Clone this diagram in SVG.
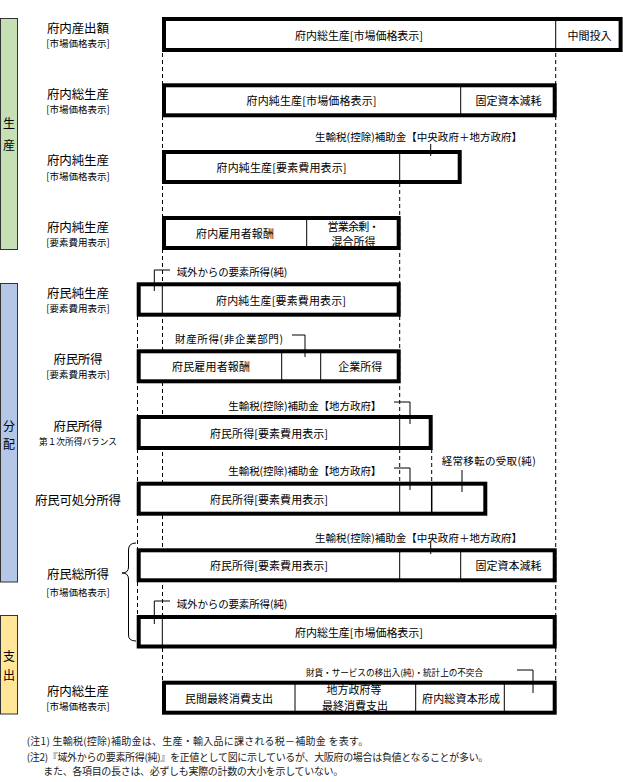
<svg xmlns="http://www.w3.org/2000/svg" width="623" height="782" viewBox="0 0 623 782">
<style>
.box{fill:#fff;stroke:#000;stroke-width:4}
.dv{stroke:#000;stroke-width:1}
.dash{stroke:#000;stroke-width:1;stroke-dasharray:4 3;fill:none}
.ln{stroke:#000;stroke-width:1;fill:none}
text{font-family:"Noto Sans CJK JP","Noto Sans CJK SC",sans-serif;fill:#000}
.bt{font-size:11px;text-anchor:middle;dominant-baseline:central}
.lb{font-size:12.5px;text-anchor:middle;dominant-baseline:central}
.sb{font-size:9.5px;text-anchor:middle;dominant-baseline:central}
.an{font-size:10.5px;dominant-baseline:central}
.nt{font-size:10px;fill:#222;dominant-baseline:central}
.st{font-size:12px;text-anchor:middle;dominant-baseline:central}
.side{stroke:#333;stroke-width:1}
</style>
<rect width="623" height="782" fill="#fff"/>

<g id="side-bars">
<rect class="side" x="0.5" y="18.5" width="17" height="231" fill="#c5e0b4"/>
<text class="st" x="9" y="122">生</text>
<text class="st" x="9" y="144">産</text>
<rect class="side" x="0.5" y="283.5" width="17" height="298.5" fill="#b4c7e7"/>
<text class="st" x="9" y="425">分</text>
<text class="st" x="9" y="443.5">配</text>
<rect class="side" x="0.5" y="615.5" width="17" height="98.5" fill="#ffe699"/>
<text class="st" x="9" y="655">支</text>
<text class="st" x="9" y="674.5">出</text>
</g>

<g id="guides">
<line class="dash" x1="162.5" y1="53" x2="162.5" y2="682"/>
<line class="dash" x1="137.5" y1="316" x2="137.5" y2="617"/>
<line class="dash" x1="399.7" y1="183" x2="399.7" y2="483"/>
<line class="dash" x1="431.7" y1="449" x2="431.7" y2="483"/>
<line class="dash" x1="555.7" y1="53" x2="555.7" y2="682"/>
</g>

<g id="labels">
<text class="lb" x="78" y="27" textLength="62">府内産出額</text>
<text class="sb" x="78" y="43">[市場価格表示]</text>
<text class="lb" x="78" y="93.3" textLength="62">府内総生産</text>
<text class="sb" x="78" y="109.3">[市場価格表示]</text>
<text class="lb" x="78" y="159.7" textLength="62">府内純生産</text>
<text class="sb" x="78" y="175.8">[市場価格表示]</text>
<text class="lb" x="78" y="226" textLength="62">府内純生産</text>
<text class="sb" x="78" y="241.7">[要素費用表示]</text>
<text class="lb" x="78" y="292" textLength="62">府民純生産</text>
<text class="sb" x="78" y="308.3">[要素費用表示]</text>
<text class="lb" x="78" y="358.2" textLength="49">府民所得</text>
<text class="sb" x="78" y="374.3">[要素費用表示]</text>
<text class="lb" x="78" y="425" textLength="49">府民所得</text>
<text class="sb" x="78" y="441" textLength="78" style="font-size:8.7px">第１次所得バランス</text>
<text class="lb" x="78" y="499.2" textLength="86">府民可処分所得</text>
<text class="lb" x="78" y="573" textLength="62">府民総所得</text>
<text class="sb" x="78" y="591.7">[市場価格表示]</text>
<text class="lb" x="78" y="690.5" textLength="62">府内総生産</text>
<text class="sb" x="78" y="706.3">[市場価格表示]</text>
</g>

<g id="n1">
<rect class="box" x="164" y="19" width="456.6" height="31"/>
<line class="dv" x1="555.7" y1="19" x2="555.7" y2="50"/>
<text class="bt" x="359" y="34.5" textLength="128">府内総生産[市場価格表示]</text>
<text class="bt" x="589.5" y="34.5" textLength="44">中間投入</text>
</g>
<g id="n2">
<rect class="box" x="164" y="85.3" width="390.7" height="30"/>
<line class="dv" x1="460.7" y1="85.3" x2="460.7" y2="115.3"/>
<text class="bt" x="311.5" y="100.3" textLength="130">府内純生産[市場価格表示]</text>
<text class="bt" x="508.5" y="100.3" textLength="66">固定資本減耗</text>
</g>
<g id="n3">
<rect class="box" x="164" y="152" width="295.7" height="30"/>
<line class="dv" x1="399.7" y1="152" x2="399.7" y2="182"/>
<text class="bt" x="281.5" y="167" textLength="130">府内純生産[要素費用表示]</text>
</g>
<g id="n4">
<rect class="box" x="164" y="218" width="234.7" height="30"/>
<line class="dv" x1="306.7" y1="218" x2="306.7" y2="248"/>
<text class="bt" x="235" y="233" textLength="78">府内雇用者報酬</text>
<text class="bt" x="353.5" y="225.5" textLength="52">営業余剰・</text>
<text class="bt" x="353.5" y="241" textLength="44">混合所得</text>
</g>
<g id="n5">
<rect class="box" x="138.7" y="284.3" width="260" height="30.4"/>
<line class="dv" x1="162.3" y1="284.3" x2="162.3" y2="314.7"/>
<text class="bt" x="281" y="299.5" textLength="130">府内純生産[要素費用表示]</text>
</g>
<g id="n6">
<rect class="box" x="138.7" y="351.3" width="260" height="30"/>
<line class="dv" x1="281.7" y1="351.3" x2="281.7" y2="381.3"/>
<line class="dv" x1="320.7" y1="351.3" x2="320.7" y2="381.3"/>
<text class="bt" x="211" y="366.3" textLength="78">府民雇用者報酬</text>
<text class="bt" x="360.3" y="366.3" textLength="44">企業所得</text>
</g>
<g id="n7">
<rect class="box" x="138.7" y="417" width="292" height="31"/>
<line class="dv" x1="399.7" y1="417" x2="399.7" y2="448"/>
<text class="bt" x="269" y="432.5" textLength="118">府民所得[要素費用表示]</text>
</g>
<g id="n8">
<rect class="box" x="138.7" y="483.7" width="346.6" height="30"/>
<line class="dv" x1="399.7" y1="483.7" x2="399.7" y2="513.7"/>
<line class="dv" x1="431.7" y1="483.7" x2="431.7" y2="513.7" style="stroke-width:1.5"/>
<text class="bt" x="269" y="498.7" textLength="118">府民所得[要素費用表示]</text>
</g>
<g id="n9">
<rect class="box" x="138.7" y="550.3" width="416" height="30"/>
<line class="dv" x1="399.7" y1="550.3" x2="399.7" y2="580.3"/>
<line class="dv" x1="460.7" y1="550.3" x2="460.7" y2="580.3"/>
<text class="bt" x="269" y="565.3" textLength="118">府民所得[要素費用表示]</text>
<text class="bt" x="508.5" y="565.3" textLength="66">固定資本減耗</text>
</g>
<g id="n10">
<rect class="box" x="138.7" y="617" width="416" height="29.5"/>
<line class="dv" x1="162.3" y1="617" x2="162.3" y2="646.5"/>
<text class="bt" x="359" y="632" textLength="128">府内総生産[市場価格表示]</text>
</g>
<g id="n11">
<rect class="box" x="164" y="682.7" width="390.7" height="30"/>
<line class="dv" x1="295" y1="682.7" x2="295" y2="712.7"/>
<line class="dv" x1="415.7" y1="682.7" x2="415.7" y2="712.7"/>
<line class="dv" x1="504.3" y1="682.7" x2="504.3" y2="712.7"/>
<text class="bt" x="229" y="697.7" textLength="88">民間最終消費支出</text>
<text class="bt" x="354" y="689" textLength="55">地方政府等</text>
<text class="bt" x="355" y="705" textLength="66">最終消費支出</text>
<text class="bt" x="461" y="697.7" textLength="78">府内総資本形成</text>
</g>

<g id="connectors">
<path class="ln" d="M430.7,144 V156"/>
<path class="ln" d="M430.7,542 V554"/>
<path class="ln" d="M170,270 H154.3 V291"/>
<path class="ln" d="M170,601 H154.3 V624"/>
<path class="ln" d="M292,335 H305 V357"/>
<path class="ln" d="M394,402 H410 V424"/>
<path class="ln" d="M394,468 H410 V490"/>
<path class="ln" d="M462,470 V492"/>
<path class="ln" d="M517,670 H533 V693"/>
<path class="ln" d="M136,543 Q128.5,543 128.5,550 V567 Q128.5,573 122,573 Q128.5,573 128.5,579 V635 Q128.5,641 136,641"/>
</g>

<g id="annotations">
<text class="an" x="315" y="136" textLength="207">生輸税(控除)補助金【中央政府＋地方政府】</text>
<text class="an" x="315" y="537" textLength="207">生輸税(控除)補助金【中央政府＋地方政府】</text>
<text class="an" x="176.7" y="271" textLength="110.6">域外からの要素所得(純)</text>
<text class="an" x="176.7" y="603.3" textLength="110.6">域外からの要素所得(純)</text>
<text class="an" x="175" y="338.3" textLength="108">財産所得(非企業部門)</text>
<text class="an" x="228.3" y="405" textLength="153">生輸税(控除)補助金【地方政府】</text>
<text class="an" x="228.3" y="470.7" textLength="153">生輸税(控除)補助金【地方政府】</text>
<text class="an" x="441.7" y="460.7" textLength="94">経常移転の受取(純)</text>
<text class="an" x="306" y="671.7" textLength="177" style="font-size:8.6px">財貨・サービスの移出入(純)・統計上の不突合</text>
</g>

<g id="notes">
<text class="nt" x="26.7" y="740.7" textLength="341.6">(注1) 生輸税(控除)補助金は、生産・輸入品に課される税－補助金 を表す。</text>
<text class="nt" x="26.7" y="756" textLength="461.6">(注2)『域外からの要素所得(純)』を正値として図に示しているが、大阪府の場合は負値となることが多い。</text>
<text class="nt" x="43.3" y="770.7" textLength="300">また、各項目の長さは、必ずしも実際の計数の大小を示していない。</text>
</g>
</svg>
